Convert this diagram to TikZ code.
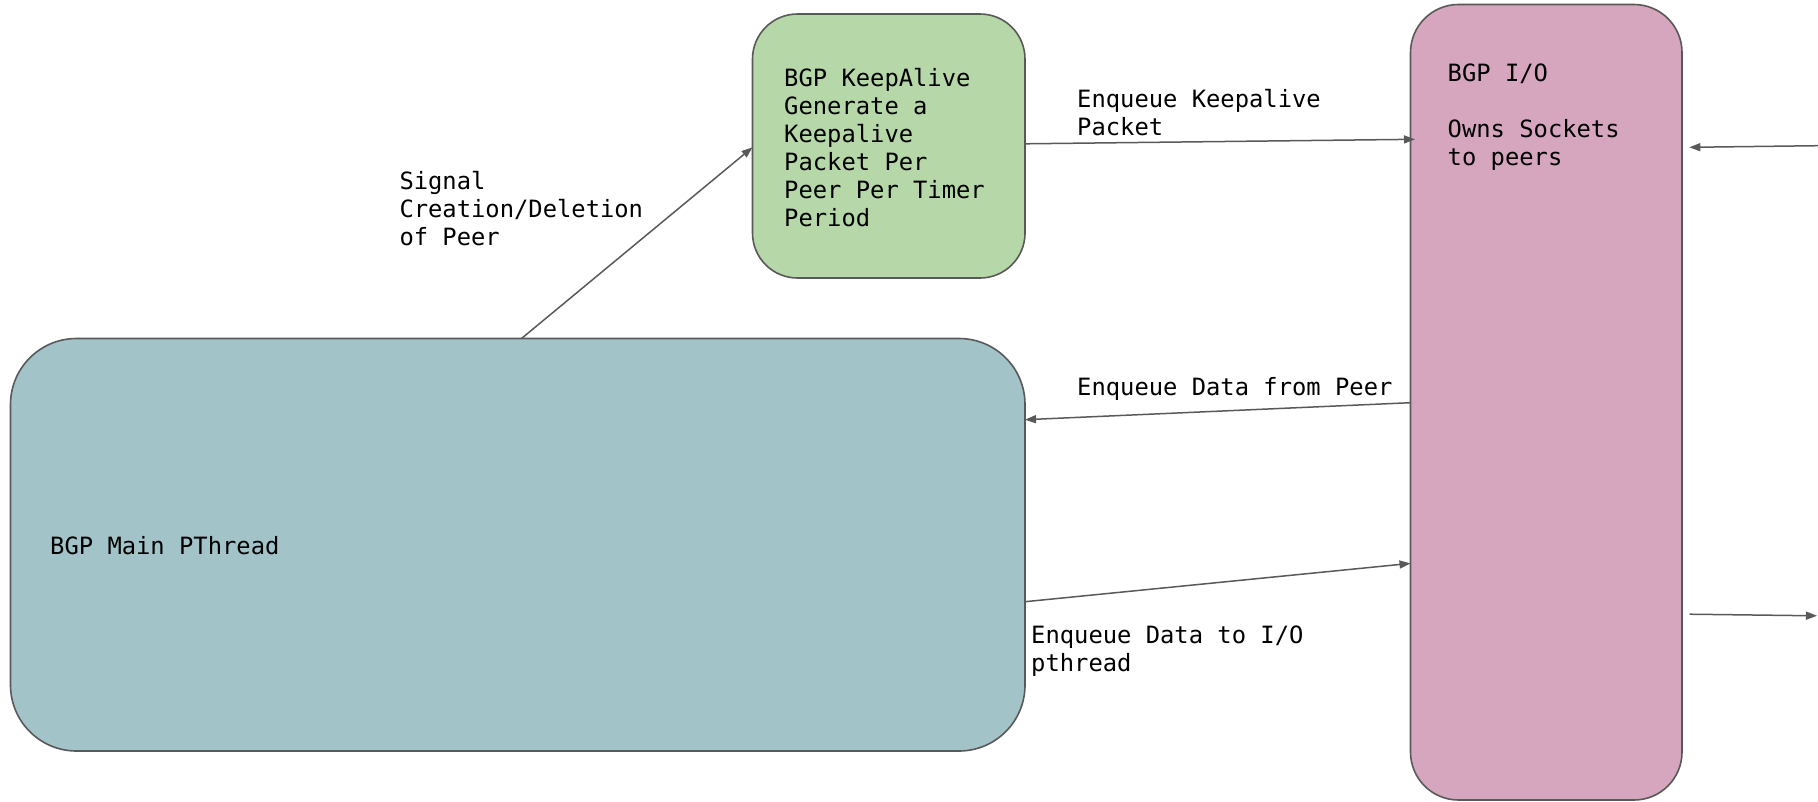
\documentclass[tikz,border=0pt]{standalone}
\usepackage{fontspec}
\setmonofont{DejaVu Sans Mono}
\usetikzlibrary{arrows.meta,calc}
\definecolor{mainfill}{HTML}{A2C4C9}
\definecolor{kafill}{HTML}{B6D7A8}
\definecolor{iofill}{HTML}{D5A6BD}
\definecolor{edgegrey}{HTML}{595959}
\newcommand\firststrut{\rule{0pt}{20pt}}
\begin{document}
\begin{tikzpicture}[x=1pt,y=-1pt,
  box/.style={draw=edgegrey,line width=1.6pt,rounded corners=#1,inner sep=0pt,outer sep=0pt},
  txt/.style={font=\fontsize{23.8}{28}\selectfont\ttfamily,align=left,anchor=north west,inner sep=0pt,text=black},
  arr/.style={draw=edgegrey,line width=1.5pt,-{Triangle[length=11pt,width=8pt]}}]
\useasboundingbox (0,0) rectangle (1818,801);
% boxes
\node[box=66pt,fill=mainfill,minimum width=1014.5pt,minimum height=412.5pt] (main) at (517.75,544.75) {};
\node[box=45pt,fill=kafill,minimum width=272.5pt,minimum height=264pt] (ka) at (888.75,146) {};
\node[box=48pt,fill=iofill,minimum width=271.5pt,minimum height=795.5pt] (io) at (1546.25,402.25) {};
% texts
\node[txt] (tmain) at (50,534.3) {\firststrut BGP Main PThread};
\node[txt] (tka) at (784,66.2) {\firststrut BGP KeepAlive\\Generate a\\Keepalive\\Packet Per\\Peer Per Timer\\Period};
\node[txt] (tio) at (1447.5,61.7) {\firststrut BGP I/O\\[28pt]Owns Sockets\\to peers};
\node[txt] (lsig) at (399.3,169.3) {\firststrut Signal\\Creation/Deletion\\of Peer};
\node[txt] (lkeep) at (1077,87.3) {\firststrut Enqueue Keepalive\\Packet};
\node[txt] (lfrom) at (1077,375) {\firststrut Enqueue Data from Peer};
\node[txt] (lto) at (1031,623.3) {\firststrut Enqueue Data to I/O\\pthread};
% free ends
\coordinate (rin) at (1818,145.7);
\coordinate (rout) at (1817,615.8);
% connectors
\draw[arr] ($(main.north west)+(511,0)$) -- ($(ka.north west)+(0,133.3)$);
\draw[arr] ($(ka.north east)+(0,129.8)$) -- ($(io.north west)+(4.5,134.8)$);
\draw[arr] (rin) -- ($(io.north east)+(7.3,142.8)$);
\draw[arr] ($(io.north west)+(0,398.2)$) -- ($(main.north east)+(0,81.2)$);
\draw[arr] ($(main.north east)+(0,263.2)$) -- ($(io.north west)+(0,558.9)$);
\draw[arr] ($(io.north east)+(7.5,609.7)$) -- (rout);
\end{tikzpicture}
\end{document}
